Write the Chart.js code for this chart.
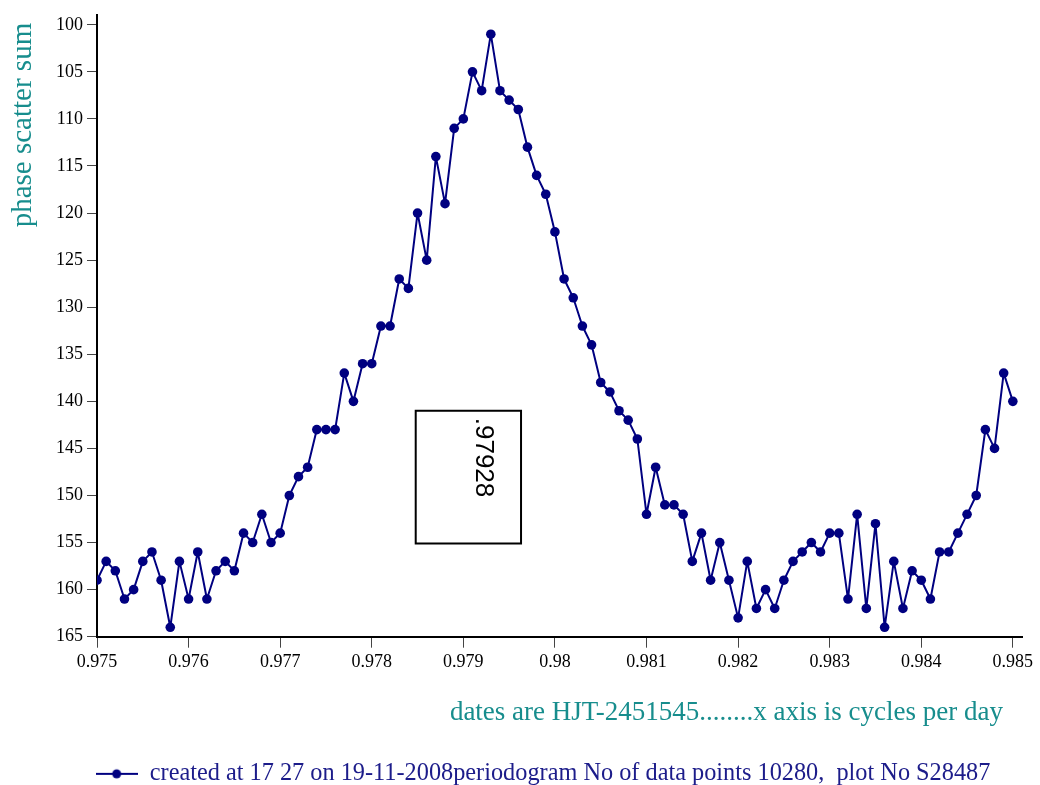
<!DOCTYPE html>
<html>
<head>
<meta charset="utf-8">
<script src="https://cdn.jsdelivr.net/npm/chart.js@4.4.0/dist/chart.umd.min.js"></script>
<style>
  body { margin: 0; background: #fff; }
  #wrap { width: 1040px; height: 785px; }
</style>
</head>
<body>
<div id="wrap"><canvas id="periodogram" width="1040" height="785"></canvas></div>
<script>
// frequency grid, cycles per day
var freqs = [
  0.9750, 0.9751, 0.9752, 0.9753, 0.9754, 0.9755, 0.9756, 0.9757, 0.9758, 0.9759,
  0.9760, 0.9761, 0.9762, 0.9763, 0.9764, 0.9765, 0.9766, 0.9767, 0.9768, 0.9769,
  0.9770, 0.9771, 0.9772, 0.9773, 0.9774, 0.9775, 0.9776, 0.9777, 0.9778, 0.9779,
  0.9780, 0.9781, 0.9782, 0.9783, 0.9784, 0.9785, 0.9786, 0.9787, 0.9788, 0.9789,
  0.9790, 0.9791, 0.9792, 0.9793, 0.9794, 0.9795, 0.9796, 0.9797, 0.9798, 0.9799,
  0.9800, 0.9801, 0.9802, 0.9803, 0.9804, 0.9805, 0.9806, 0.9807, 0.9808, 0.9809,
  0.9810, 0.9811, 0.9812, 0.9813, 0.9814, 0.9815, 0.9816, 0.9817, 0.9818, 0.9819,
  0.9820, 0.9821, 0.9822, 0.9823, 0.9824, 0.9825, 0.9826, 0.9827, 0.9828, 0.9829,
  0.9830, 0.9831, 0.9832, 0.9833, 0.9834, 0.9835, 0.9836, 0.9837, 0.9838, 0.9839,
  0.9840, 0.9841, 0.9842, 0.9843, 0.9844, 0.9845, 0.9846, 0.9847, 0.9848, 0.9849,
  0.9850
];
// phase scatter sum per frequency
var scatterSum = [
  159, 157, 158, 161, 160, 157, 156, 159, 164, 157,
  161, 156, 161, 158, 157, 158, 154, 155, 152, 155,
  154, 150, 148, 147, 143, 143, 143, 137, 140, 136,
  136, 132, 132, 127, 128, 120, 125, 114, 119, 111,
  110, 105, 107, 101, 107, 108, 109, 113, 116, 118,
  122, 127, 129, 132, 134, 138, 139, 141, 142, 144,
  152, 147, 151, 151, 152, 157, 154, 159, 155, 159,
  163, 157, 162, 160, 162, 159, 157, 156, 155, 156,
  154, 154, 161, 152, 162, 153, 164, 157, 162, 158,
  159, 161, 156, 156, 154, 152, 150, 143, 145, 137,
  140
];
var xTickValues = [0.975, 0.976, 0.977, 0.978, 0.979, 0.98, 0.981, 0.982, 0.983, 0.984, 0.985];
var yTickValues = [100, 105, 110, 115, 120, 125, 130, 135, 140, 145, 150, 155, 160, 165];

var legendText = 'created at 17 27 on 19-11-2008periodogram No of data points 10280,  plot No S28487';
var xTitle = 'dates are HJT-2451545........x axis is cycles per day';
var yTitle = 'phase scatter sum';
var peakLabel = '.97928';
// box round the peak label, in data units: x from, x to, y from, y to
var peakBox = [0.97848, 0.97963, 141.0, 155.1];

var navy = '#000080';
var teal = '#178d8d';

// little line + dot marker for the legend
var legendMarker = document.createElement('canvas');
legendMarker.width = 42;
legendMarker.height = 12;
(function () {
  var c = legendMarker.getContext('2d');
  c.strokeStyle = navy;
  c.lineWidth = 2;
  c.beginPath();
  c.moveTo(0, 6);
  c.lineTo(42, 6);
  c.stroke();
  c.fillStyle = navy;
  c.beginPath();
  c.arc(21, 6, 4.5, 0, Math.PI * 2);
  c.fill();
})();

// framed label next to the peak
var peakBoxPlugin = {
  id: 'peakBox',
  afterDatasetsDraw: function (chart) {
    var xs = chart.scales.x, ys = chart.scales.y, ctx = chart.ctx;
    var x0 = xs.getPixelForValue(peakBox[0]), x1 = xs.getPixelForValue(peakBox[1]);
    var y0 = ys.getPixelForValue(peakBox[2]), y1 = ys.getPixelForValue(peakBox[3]);
    ctx.save();
    ctx.strokeStyle = '#000';
    ctx.lineWidth = 2;
    ctx.strokeRect(x0, y0, x1 - x0, y1 - y0);
    ctx.translate(x0 + (x1 - x0) * 0.64, y0 + 7);
    ctx.rotate(Math.PI / 2);
    ctx.font = '26px "Liberation Sans"';
    ctx.fillStyle = '#000';
    ctx.textBaseline = 'middle';
    ctx.textAlign = 'left';
    ctx.fillText(peakLabel, 0, 0);
    ctx.restore();
  }
};

// axis titles (the built-in y title flips off the canvas on a reversed axis)
var axisTitles = {
  id: 'axisTitles',
  afterDraw: function (chart) {
    var ctx = chart.ctx, area = chart.chartArea;
    ctx.save();
    ctx.fillStyle = teal;
    ctx.font = '27px "Liberation Serif"';
    ctx.textAlign = 'right';
    ctx.textBaseline = 'middle';
    ctx.fillText(xTitle, area.right - 19, area.bottom + 76);
    ctx.translate(23, area.top + 8);
    ctx.rotate(-Math.PI / 2);
    ctx.font = '29px "Liberation Serif"';
    ctx.textAlign = 'right';
    ctx.fillText(yTitle, 0, 0);
    ctx.restore();
  }
};

// nudge the legend right and down, as in the original
var legendShift = {
  id: 'legendShift',
  afterLayout: function (chart) {
    chart.legend.left += 32;
    chart.legend.right += 32;
    chart.legend.top += 11;
    chart.legend.bottom += 11;
  }
};

var tickFont = { family: 'Liberation Serif', size: 18 };

new Chart(document.getElementById('periodogram'), {
  type: 'line',
  data: {
    datasets: [{
      label: legendText,
      data: freqs.map(function (f, i) { return { x: f, y: scatterSum[i] }; }),
      borderColor: navy,
      backgroundColor: navy,
      borderWidth: 2,
      borderJoinStyle: 'round',
      pointRadius: 4.8,
      pointHoverRadius: 4.8,
      pointBorderWidth: 0,
      pointBackgroundColor: navy,
      tension: 0,
      fill: false
    }]
  },
  options: {
    responsive: false,
    animation: false,
    layout: { padding: { top: 11, right: 18, left: 0, bottom: 0 } },
    plugins: {
      legend: {
        position: 'bottom',
        labels: {
          usePointStyle: true,
          pointStyle: legendMarker,
          pointStyleWidth: 42,
          color: '#1c1c8a',
          font: { family: 'Liberation Serif', size: 24.3 },
          padding: 4
        }
      },
      tooltip: { enabled: false }
    },
    scales: {
      x: {
        type: 'linear',
        min: 0.975,
        max: 0.9851,
        afterBuildTicks: function (s) { s.ticks = xTickValues.map(function (v) { return { value: v }; }); },
        afterFit: function (s) { s.height = 110; },
        border: { color: '#000', width: 2 },
        grid: { drawOnChartArea: false, drawTicks: true, tickLength: 11, color: '#444' },
        ticks: {
          color: '#000', padding: 4, maxRotation: 0, autoSkip: false, font: tickFont,
          callback: function (v) { return String(+v.toFixed(4)); }
        }
      },
      y: {
        type: 'linear',
        reverse: true,
        min: 98.94,
        max: 165,
        afterBuildTicks: function (s) { s.ticks = yTickValues.map(function (v) { return { value: v }; }); },
        afterFit: function (s) { s.width = 97; },
        border: { color: '#000', width: 2 },
        grid: { drawOnChartArea: false, drawTicks: true, tickLength: 10, color: '#444' },
        ticks: { color: '#000', padding: 4, font: tickFont }
      }
    }
  },
  plugins: [peakBoxPlugin, axisTitles, legendShift]
});
</script>
</body>
</html>
